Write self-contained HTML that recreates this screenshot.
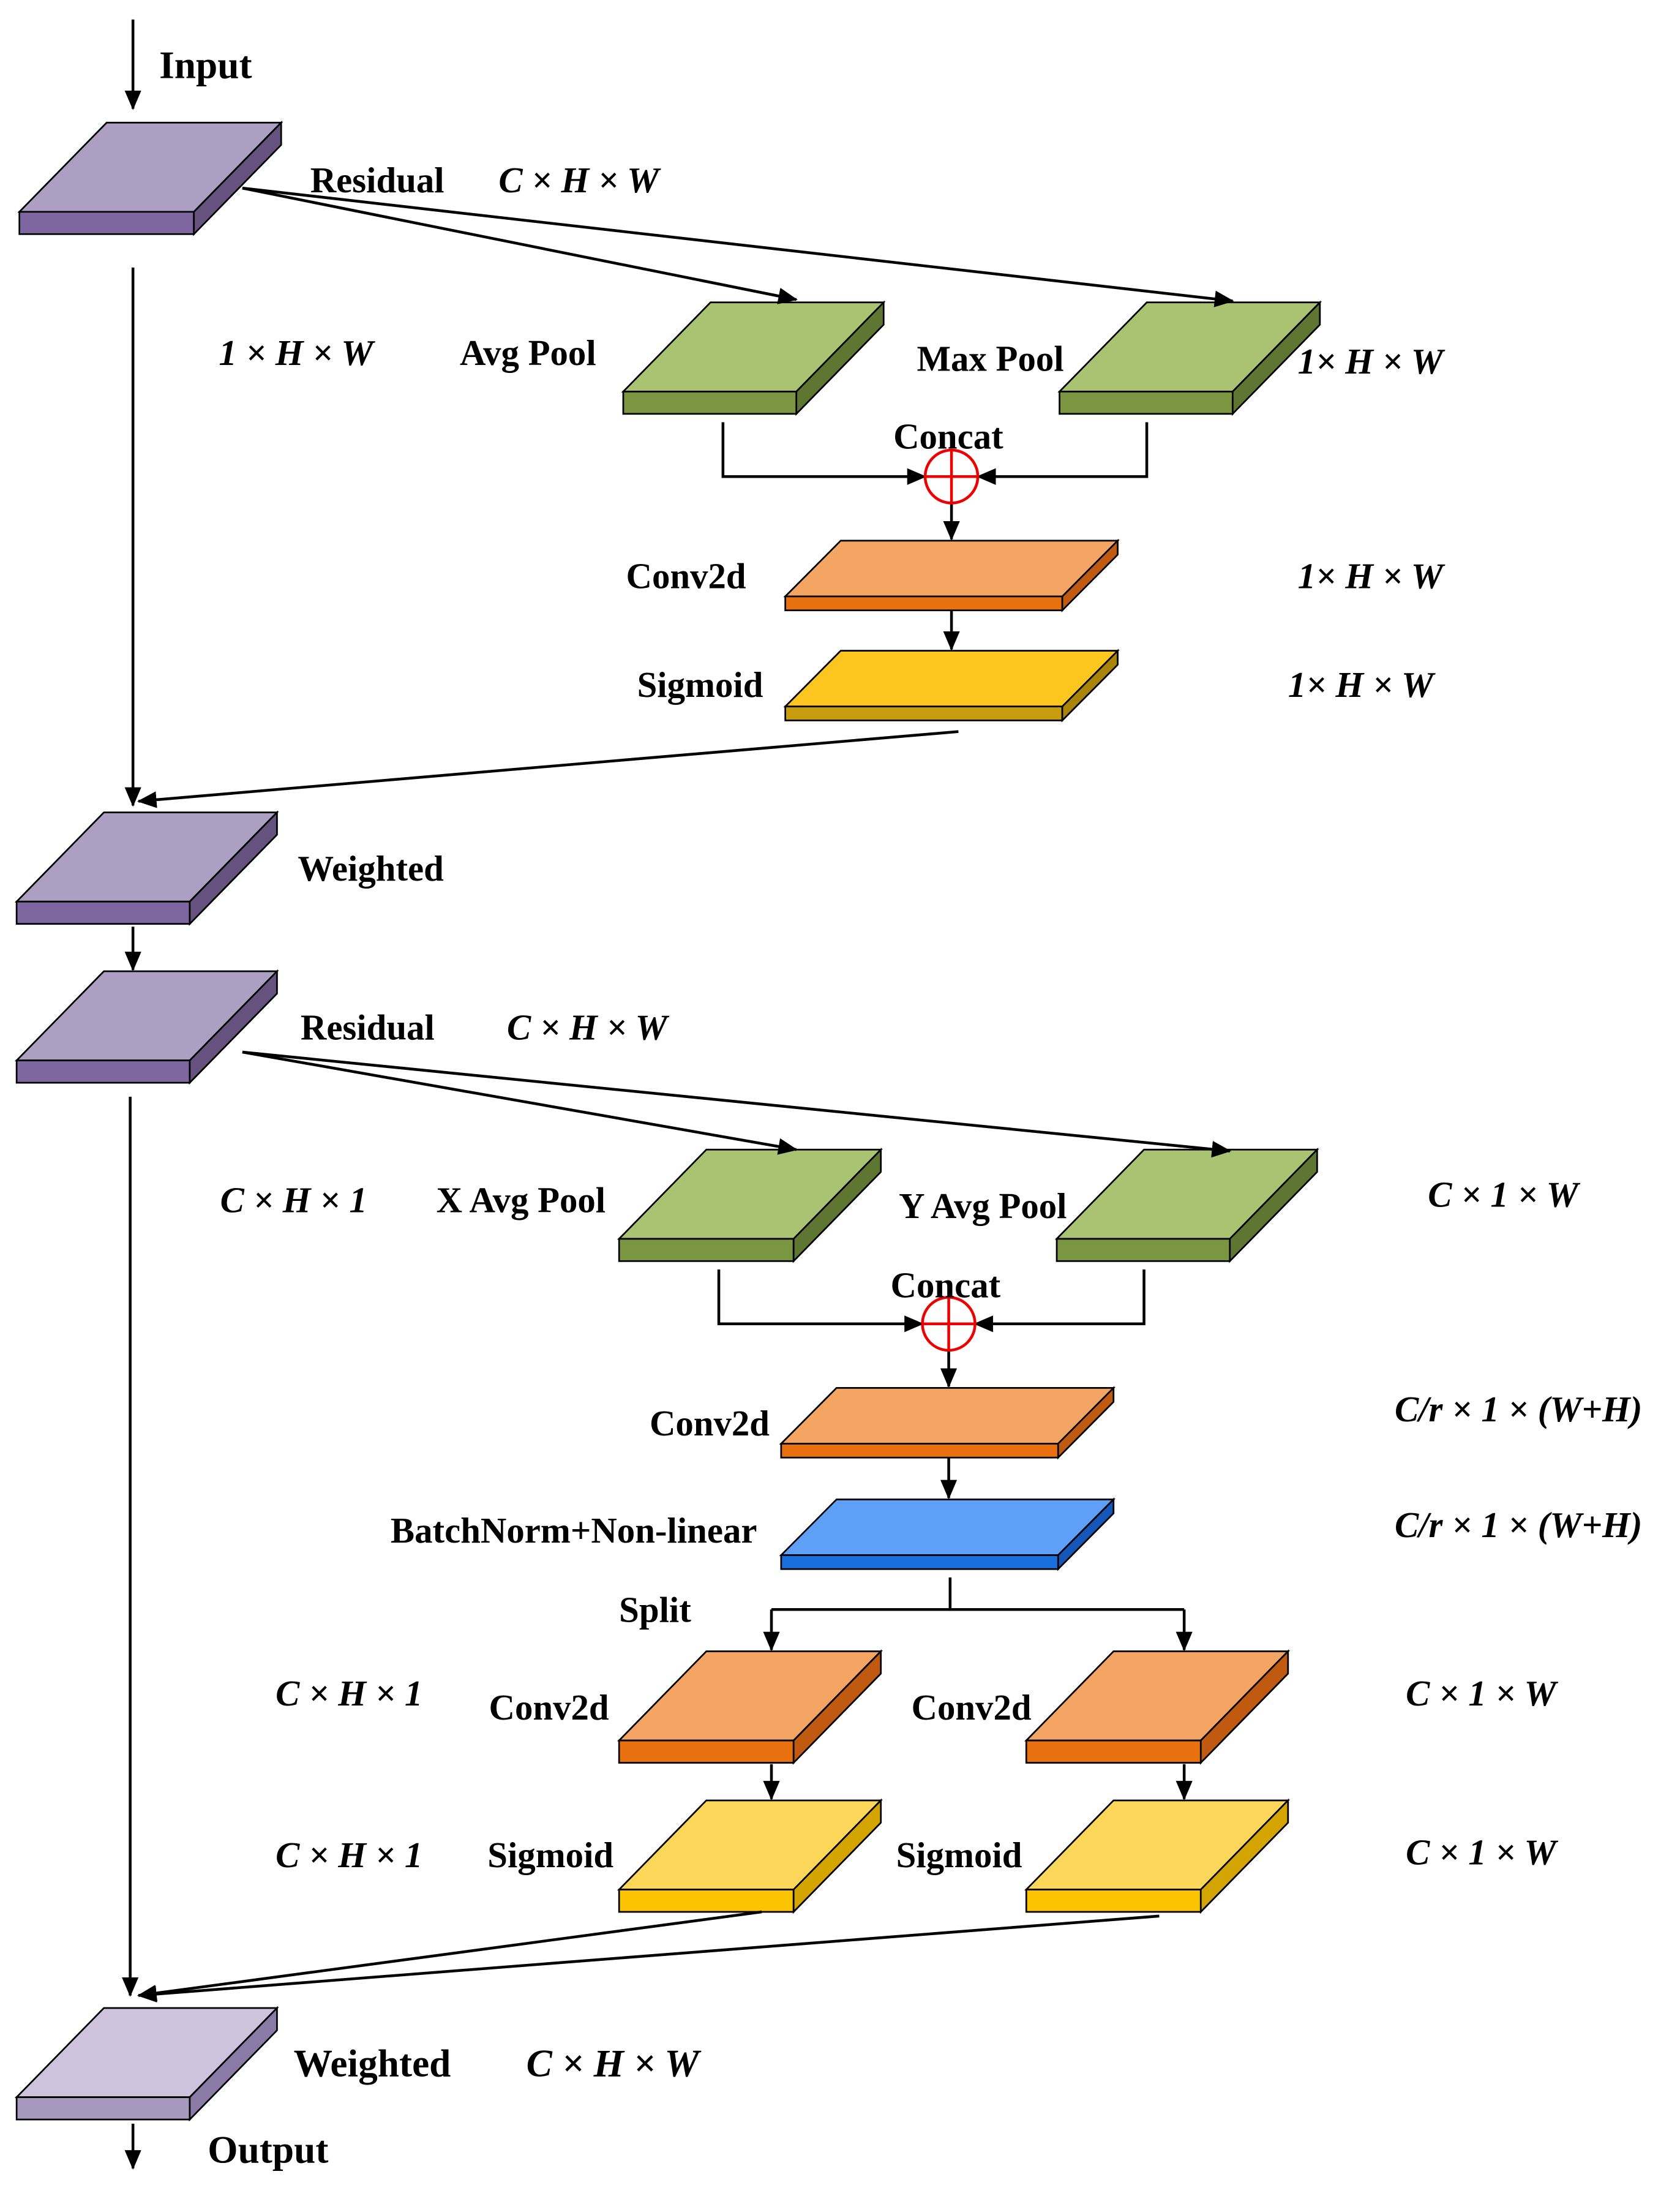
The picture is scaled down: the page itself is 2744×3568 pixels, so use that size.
<!DOCTYPE html>
<html><head><meta charset="utf-8"><style>
html,body{margin:0;padding:0;background:#fff;}
svg{display:block;}
text{font-family:"Liberation Serif",serif;font-weight:bold;font-size:26px;fill:#000;}
.i{font-style:italic;}
</style></head><body>
<svg width="2744" height="3568" viewBox="0 0 1213 1568" preserveAspectRatio="none" xmlns="http://www.w3.org/2000/svg">
<defs>
<marker id="a" markerWidth="14" markerHeight="12" refX="13" refY="6" orient="auto" markerUnits="userSpaceOnUse" viewBox="0 0 14 12">
<path d="M0,0 L14,6 L0,12 z" fill="#000"/></marker>
</defs>
<g stroke="#000" stroke-width="1.2" stroke-linejoin="miter">
<polygon points="77,88 203,88 140,152 14,152" fill="#ad9fc1"/>
<rect x="14" y="152" width="126" height="16" fill="#7e67a0"/>
<polygon points="140,152 203,88 203,104 140,168" fill="#65527e"/>
<polygon points="513,217 638,217 575,281 450,281" fill="#a9c373"/>
<rect x="450" y="281" width="125" height="16" fill="#7a9641"/>
<polygon points="575,281 638,217 638,233 575,297" fill="#5f7532"/>
<polygon points="828,217 953,217 890,281 765,281" fill="#a9c373"/>
<rect x="765" y="281" width="125" height="16" fill="#7a9641"/>
<polygon points="890,281 953,217 953,233 890,297" fill="#5f7532"/>
<polygon points="607,388 807,388 767,428 567,428" fill="#f5a563"/>
<rect x="567" y="428" width="200" height="10" fill="#e8700f"/>
<polygon points="767,428 807,388 807,398 767,438" fill="#c05a10"/>
<polygon points="607,467 807,467 767,507 567,507" fill="#fcc520"/>
<rect x="567" y="507" width="200" height="10" fill="#c89c0a"/>
<polygon points="767,507 807,467 807,477 767,517" fill="#a88408"/>
<polygon points="75,583 200,583 137,647 12,647" fill="#ad9fc1"/>
<rect x="12" y="647" width="125" height="16" fill="#7e67a0"/>
<polygon points="137,647 200,583 200,599 137,663" fill="#65527e"/>
<polygon points="75,697 200,697 137,761 12,761" fill="#ad9fc1"/>
<rect x="12" y="761" width="125" height="16" fill="#7e67a0"/>
<polygon points="137,761 200,697 200,713 137,777" fill="#65527e"/>
<polygon points="510,825 636,825 573,889 447,889" fill="#a9c373"/>
<rect x="447" y="889" width="126" height="16" fill="#7a9641"/>
<polygon points="573,889 636,825 636,841 573,905" fill="#5f7532"/>
<polygon points="826,825 951,825 888,889 763,889" fill="#a9c373"/>
<rect x="763" y="889" width="125" height="16" fill="#7a9641"/>
<polygon points="888,889 951,825 951,841 888,905" fill="#5f7532"/>
<polygon points="604,996 804,996 764,1036 564,1036" fill="#f5a563"/>
<rect x="564" y="1036" width="200" height="10" fill="#e8700f"/>
<polygon points="764,1036 804,996 804,1006 764,1046" fill="#c05a10"/>
<polygon points="604,1076 804,1076 764,1116 564,1116" fill="#5e9ff7"/>
<rect x="564" y="1116" width="200" height="10" fill="#1a6fe0"/>
<polygon points="764,1116 804,1076 804,1086 764,1126" fill="#1457b8"/>
<polygon points="510,1185 636,1185 573,1249 447,1249" fill="#f5a563"/>
<rect x="447" y="1249" width="126" height="16" fill="#e8700f"/>
<polygon points="573,1249 636,1185 636,1201 573,1265" fill="#c05a10"/>
<polygon points="804,1185 930,1185 867,1249 741,1249" fill="#f5a563"/>
<rect x="741" y="1249" width="126" height="16" fill="#e8700f"/>
<polygon points="867,1249 930,1185 930,1201 867,1265" fill="#c05a10"/>
<polygon points="510,1292 636,1292 573,1356 447,1356" fill="#fcd75a"/>
<rect x="447" y="1356" width="126" height="16" fill="#fcc300"/>
<polygon points="573,1356 636,1292 636,1308 573,1372" fill="#d4a500"/>
<polygon points="804,1292 930,1292 867,1356 741,1356" fill="#fcd75a"/>
<rect x="741" y="1356" width="126" height="16" fill="#fcc300"/>
<polygon points="867,1356 930,1292 930,1308 867,1372" fill="#d4a500"/>
<polygon points="75,1441 200,1441 137,1505 12,1505" fill="#cdc3dc"/>
<rect x="12" y="1505" width="125" height="16" fill="#a799be"/>
<polygon points="137,1505 200,1441 200,1457 137,1521" fill="#8a7aa6"/>
</g>
<g stroke="#000" stroke-width="2" fill="none">
<line x1="96" y1="14" x2="96" y2="78" marker-end="url(#a)"/>
<line x1="175" y1="135" x2="575" y2="215" marker-end="url(#a)"/>
<line x1="175" y1="135" x2="890" y2="216" marker-end="url(#a)"/>
<line x1="96" y1="192" x2="96" y2="578" marker-end="url(#a)"/>
<line x1="692" y1="525" x2="100" y2="575" marker-end="url(#a)"/>
<polyline points="522,303 522,342 668,342" marker-end="url(#a)"/>
<polyline points="828,303 828,342 706,342" marker-end="url(#a)"/>
<line x1="687" y1="361" x2="687" y2="387" marker-end="url(#a)"/>
<line x1="687" y1="438" x2="687" y2="466" marker-end="url(#a)"/>
<line x1="96" y1="665" x2="96" y2="696" marker-end="url(#a)"/>
<line x1="175" y1="755" x2="575" y2="825" marker-end="url(#a)"/>
<line x1="175" y1="755" x2="888" y2="826" marker-end="url(#a)"/>
<line x1="94" y1="787" x2="94" y2="1432" marker-end="url(#a)"/>
<polyline points="519,911 519,950 666,950" marker-end="url(#a)"/>
<polyline points="826,911 826,950 704,950" marker-end="url(#a)"/>
<line x1="685" y1="969" x2="685" y2="995" marker-end="url(#a)"/>
<line x1="685" y1="1046" x2="685" y2="1075" marker-end="url(#a)"/>
<line x1="686" y1="1132" x2="686" y2="1155"/>
<line x1="557" y1="1155" x2="855" y2="1155"/>
<line x1="557" y1="1155" x2="557" y2="1184" marker-end="url(#a)"/>
<line x1="855" y1="1155" x2="855" y2="1184" marker-end="url(#a)"/>
<line x1="557" y1="1266" x2="557" y2="1291" marker-end="url(#a)"/>
<line x1="855" y1="1266" x2="855" y2="1291" marker-end="url(#a)"/>
<line x1="550" y1="1372" x2="100" y2="1432" marker-end="url(#a)"/>
<line x1="837" y1="1375" x2="100" y2="1432" marker-end="url(#a)"/>
<line x1="96" y1="1524" x2="96" y2="1556" marker-end="url(#a)"/>
</g>
<g stroke="#e00" stroke-width="2" fill="#fff">
<circle cx="687" cy="342" r="19"/>
<line x1="668" y1="342" x2="706" y2="342"/><line x1="687" y1="323" x2="687" y2="361"/>
<circle cx="685" cy="950" r="19"/>
<line x1="666" y1="950" x2="704" y2="950"/><line x1="685" y1="931" x2="685" y2="969"/>
</g>
<text x="115" y="56" style="font-size:28px">Input</text>
<text x="224" y="138">Residual</text>
<text x="360" y="138" class="i">C × H × W</text>
<text x="158" y="262" class="i">1 × H × W</text>
<text x="332" y="262">Avg Pool</text>
<text x="662" y="266">Max Pool</text>
<text x="937" y="268" class="i">1× H × W</text>
<text x="645" y="322">Concat</text>
<text x="452" y="422">Conv2d</text>
<text x="937" y="422" class="i">1× H × W</text>
<text x="460" y="500">Sigmoid</text>
<text x="930" y="500" class="i">1× H × W</text>
<text x="215" y="632">Weighted</text>
<text x="217" y="746">Residual</text>
<text x="366" y="746" class="i">C × H × W</text>
<text x="159" y="870" class="i">C × H × 1</text>
<text x="315" y="870">X Avg Pool</text>
<text x="649" y="874">Y Avg Pool</text>
<text x="1031" y="866" class="i">C × 1 × W</text>
<text x="643" y="931">Concat</text>
<text x="469" y="1030">Conv2d</text>
<text x="1007" y="1020" class="i">C/r × 1 × (W+H)</text>
<text x="282" y="1107">BatchNorm+Non-linear</text>
<text x="1007" y="1103" class="i">C/r × 1 × (W+H)</text>
<text x="447" y="1164">Split</text>
<text x="199" y="1224" class="i">C × H × 1</text>
<text x="353" y="1234">Conv2d</text>
<text x="658" y="1234">Conv2d</text>
<text x="1015" y="1224" class="i">C × 1 × W</text>
<text x="199" y="1340" class="i">C × H × 1</text>
<text x="352" y="1340">Sigmoid</text>
<text x="647" y="1340">Sigmoid</text>
<text x="1015" y="1338" class="i">C × 1 × W</text>
<text x="212" y="1490" style="font-size:28px">Weighted</text>
<text x="380" y="1490" class="i" style="font-size:28px">C × H × W</text>
<text x="150" y="1552" style="font-size:28px">Output</text>
</svg>
</body></html>
